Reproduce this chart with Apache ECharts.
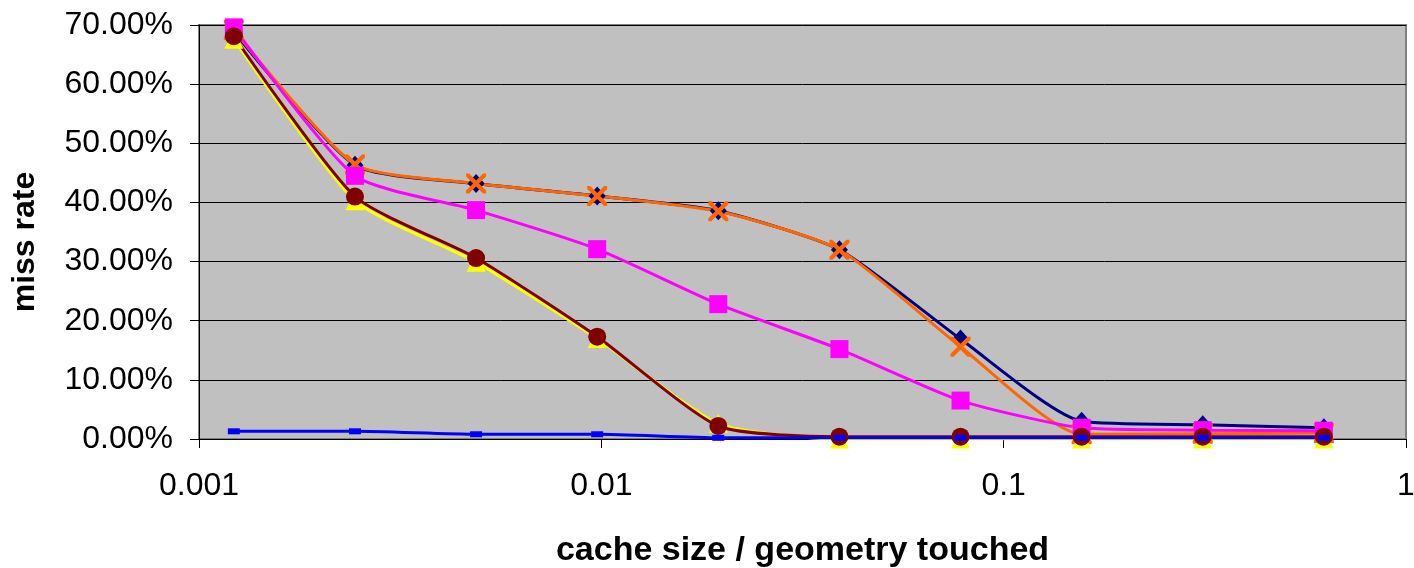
<!DOCTYPE html>
<html>
<head>
<meta charset="utf-8">
<script src="https://cdn.jsdelivr.net/npm/echarts@6/dist/echarts.min.js"></script>
<style>
html,body{margin:0;padding:0;background:#fff;}
#chart{width:1414px;height:568px;}
</style>
</head>
<body>
<div id="chart"></div>
<script>
// cache size / geometry touched (x values)
const xValues = [0.0012207, 0.0024414, 0.0048828, 0.0097656, 0.0195313, 0.0390625, 0.078125, 0.15625, 0.3125, 0.625];
// miss rate in percent
const navyDiamond  = [68.9, 46.3, 43.2, 41.1, 38.6, 32.0, 16.9, 3.0, 2.4, 1.9];
const orangeCross  = [69.2, 46.4, 43.2, 41.1, 38.5, 32.0, 15.6, 0.8, 0.9, 1.0];
const magentaSquare = [69.6, 44.5, 38.7, 32.1, 22.8, 15.2, 6.5, 1.9, 1.5, 1.4];
const yellowTriangle = [67.6, 40.3, 29.9, 17.0, 2.6, 0, 0, 0, 0, 0];
const darkredCircle = [68.1, 41.0, 30.6, 17.3, 2.2, 0.4, 0.4, 0.4, 0.4, 0.4];
const blueDash = [1.3, 1.3, 0.8, 0.8, 0.2, 0.2, 0.2, 0.2, 0.2, 0.2];
const xTickLabels = ['0.001', '0.01', '0.1', '1'];
const yTickValues = [0, 10, 20, 30, 40, 50, 60, 70];

const pairs = arr => arr.map((v, i) => [xValues[i], v]);
const crossPath = 'path://M0,0 L3,0 L10,7 L17,0 L20,0 L20,3 L13,10 L20,17 L20,20 L17,20 L10,13 L3,20 L0,20 L0,17 L7,10 L0,3 Z';

function mk(name, data, color, symbol, size) {
  return {
    name, type: 'line', data: pairs(data), smooth: 0.2,
    symbol, symbolSize: size, showSymbol: true,
    lineStyle: { color, width: 3 },
    itemStyle: { color, borderWidth: 0 },
    emphasis: { disabled: true },
    animation: false
  };
}

const chart = echarts.init(document.getElementById('chart'), null, { renderer: 'canvas' });
chart.setOption({
  animation: false,
  backgroundColor: '#ffffff',
  grid: {
    left: 199, right: 8, top: 25, bottom: 129,
    containLabel: false, outerBoundsMode: 'none',
    show: true, backgroundColor: '#C0C0C0', borderColor: '#808080', borderWidth: 2
  },
  xAxis: {
    type: 'log', logBase: 10, min: 0.001, max: 1,
    name: 'cache size / geometry touched',
    nameLocation: 'middle', nameGap: 95,
    nameTextStyle: { fontFamily: 'Liberation Sans', fontWeight: 'bold', fontSize: 34, color: '#000' },
    axisLine: { show: true, lineStyle: { color: '#000', width: 1 } },
    axisTick: { show: true, length: 9, lineStyle: { color: '#000' } },
    minorTick: { show: false },
    splitLine: { show: false },
    axisLabel: {
      margin: 31, fontFamily: 'Liberation Sans', fontSize: 32, color: '#000',
      formatter: v => xTickLabels[Math.round(Math.log10(v)) + 3]
    }
  },
  yAxis: {
    type: 'value', min: 0, max: 70, interval: 10,
    axisLine: { show: true, lineStyle: { color: '#000', width: 1 } },
    axisTick: { show: true, length: 9, lineStyle: { color: '#000' } },
    splitLine: { show: true, lineStyle: { color: '#000', width: 1 } },
    axisLabel: {
      margin: 26, fontFamily: 'Liberation Sans', fontSize: 32, color: '#000',
      formatter: v => (yTickValues.indexOf(v) >= 0 ? v.toFixed(2) + '%' : '')
    }
  },
  graphic: [{
    type: 'text', x: 25, y: 242, rotation: Math.PI / 2,
    style: { text: 'miss rate', fontFamily: 'Liberation Sans', fontWeight: 'bold', fontSize: 32, fill: '#000',
             textAlign: 'center', textVerticalAlign: 'middle' }
  }],
  series: [
    mk('navy', navyDiamond, '#000080', 'diamond', [17, 19]),
    mk('orange', orangeCross, '#FF6600', crossPath, 20),
    mk('magenta', magentaSquare, '#FF00FF', 'rect', 18),
    mk('yellow', yellowTriangle, '#FFFF00', 'triangle', 19),
    mk('darkred', darkredCircle, '#800000', 'circle', 18),
    mk('blue', blueDash, '#0000FF', 'rect', [12, 6])
  ]
});
</script>
</body>
</html>
